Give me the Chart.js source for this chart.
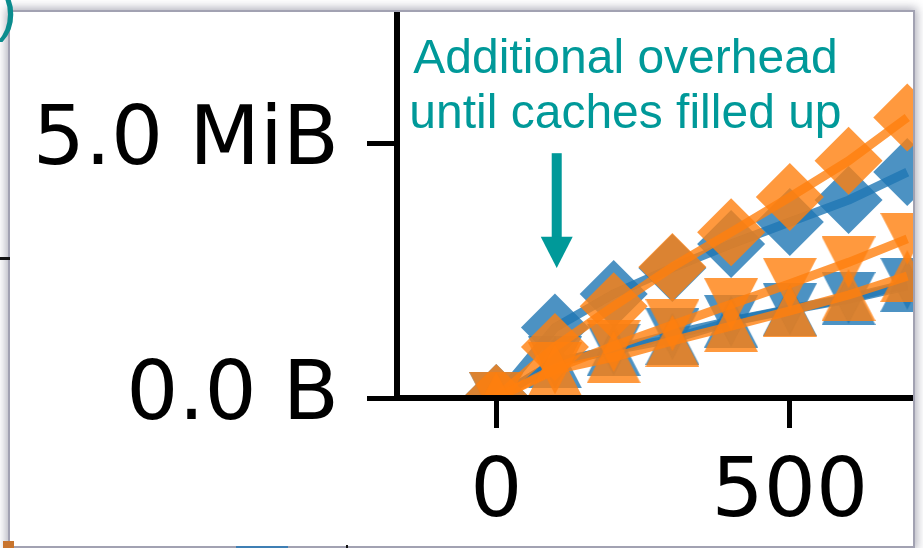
<!DOCTYPE html>
<html>
<head>
<meta charset="utf-8">
<script src="https://cdn.jsdelivr.net/npm/chart.js@4.4.1/dist/chart.umd.min.js"></script>
<style>
  html, body { margin: 0; padding: 0; background: #fff; }
  #page { position: relative; width: 923px; height: 548px; overflow: hidden; background: #fff; }
  #frame {
    position: absolute; left: 8px; top: 10px; width: 903px; height: 534px;
    border: 2px solid #a2a2b2; background: #fff; overflow: hidden;
    box-shadow: 0 0 9px 2px rgba(110, 110, 130, 0.55);
  }
  #wrap { position: absolute; left: -10px; top: -62px; width: 1000px; height: 650px; }
  .paren {
    position: absolute; left: -3px; top: -20px; height: 60px; line-height: 60px;
    font-family: "Liberation Sans", Arial, sans-serif; font-size: 60px; color: #0b8c8e;
  }
  .bit { position: absolute; }
</style>
</head>
<body>
<div id="page">
  <div id="frame">
    <div id="wrap"><canvas id="chart" width="1000" height="650"></canvas></div>
  </div>
  <div class="paren">)</div>
  <div class="bit" style="left:0;top:257px;width:10px;height:3px;background:#111;"></div>
  <div class="bit" style="left:3px;top:541px;width:11px;height:7px;background:#c8742e;"></div>
  <div class="bit" style="left:236px;top:546px;width:52px;height:2px;background:#3f7fb4;"></div>
  <div class="bit" style="left:346px;top:545px;width:2px;height:3px;background:#111;"></div>
</div>
<script>
// Requests processed (x) and memory in MiB (y)
const xValues = [0, 100, 200, 300, 400, 500, 600, 700];

const blueDiamond   = [0, 1.38, 2.04, 2.55, 3.02, 3.45, 3.88, 4.43];
const orangeDiamond = [0, 1.00, 1.80, 2.57, 3.25, 3.94, 4.65, 5.50];
const blueDown      = [0, 0.70, 0.95, 1.25, 1.51, 1.74, 1.96, 2.24];
const blueUp        = [0, 0.70, 0.94, 1.16, 1.50, 1.73, 1.94, 2.20];
const orangeDown    = [0, 0.58, 1.02, 1.43, 1.84, 2.24, 2.66, 3.12];
const orangeUp      = [0, 0.55, 0.80, 1.12, 1.41, 1.71, 2.02, 2.39];

const xTickValues = [0, 500];
const xTickLabels = ['0', '500'];
const yTickValues = [0, 5];
const yTickLabels = ['0.0 B', '5.0 MiB'];

const noteLines = ['Additional overhead', 'until caches filled up'];
const noteArrowX = 103;      // data x the arrow points at
const noteTextX = 220;       // data x of the text centre
const noteBaselines = [6.37, 5.29];
const noteArrowTop = 4.80, noteArrowHeadBase = 3.16, noteArrowTip = 2.55;

const BLUE = 'rgba(31,119,180,0.8)';
const ORANGE = 'rgba(255,127,14,0.8)';
const TEAL = '#009999';

// matplotlib-like triangles: width equals height, centred on the box
function triangleMarker(color, down) {
  const w = 54, h = 52;
  const c = document.createElement('canvas');
  c.width = w; c.height = h;
  const g = c.getContext('2d');
  g.fillStyle = color;
  g.beginPath();
  if (down) { g.moveTo(0, 0); g.lineTo(w, 0); g.lineTo(w / 2, h); }
  else { g.moveTo(w / 2, 0); g.lineTo(w, h); g.lineTo(0, h); }
  g.closePath();
  g.fill();
  return c;
}

function series(label, values, color, marker, order) {
  return {
    label,
    data: xValues.map((x, i) => ({ x, y: values[i] })),
    borderColor: color,
    backgroundColor: color,
    borderWidth: 9,
    borderJoinStyle: 'round',
    pointStyle: marker,
    pointRadius: marker === 'rectRot' ? 34 : 27,
    pointBackgroundColor: color,
    pointBorderWidth: 0,
    fill: false,
    tension: 0,
    clip: 0,
    order
  };
}

const datasets = [
  series('orange ▲', orangeUp, ORANGE, triangleMarker(ORANGE, false), 1),
  series('orange ▼', orangeDown, ORANGE, triangleMarker(ORANGE, true), 2),
  series('orange ◆', orangeDiamond, ORANGE, 'rectRot', 3),
  series('blue ▲', blueUp, BLUE, triangleMarker(BLUE, false), 4),
  series('blue ▼', blueDown, BLUE, triangleMarker(BLUE, true), 5),
  series('blue ◆', blueDiamond, BLUE, 'rectRot', 6)
];

// Teal note with a downward arrow
const cacheNote = {
  id: 'cacheNote',
  afterDraw(chart) {
    const { ctx } = chart;
    const xs = chart.scales.x, ys = chart.scales.y;
    ctx.save();
    ctx.fillStyle = TEAL;
    ctx.font = '48px "Liberation Sans", Arial, sans-serif';
    ctx.textAlign = 'center';
    ctx.textBaseline = 'alphabetic';
    const tx = xs.getPixelForValue(noteTextX);
    noteLines.forEach((line, i) => ctx.fillText(line, tx, ys.getPixelForValue(noteBaselines[i])));

    const ax = xs.getPixelForValue(noteArrowX);
    const yTop = ys.getPixelForValue(noteArrowTop);
    const yBase = ys.getPixelForValue(noteArrowHeadBase);
    const yTip = ys.getPixelForValue(noteArrowTip);
    ctx.fillRect(ax - 5, yTop, 10, yBase - yTop + 1);
    ctx.beginPath();
    ctx.moveTo(ax - 16, yBase);
    ctx.lineTo(ax + 16, yBase);
    ctx.lineTo(ax, yTip);
    ctx.closePath();
    ctx.fill();
    ctx.restore();
  }
};

const axisFont = { family: 'DejaVu Sans', size: 82 };

new Chart(document.getElementById('chart'), {
  type: 'line',
  data: { datasets },
  plugins: [cacheNote],
  options: {
    responsive: false,
    animation: false,
    devicePixelRatio: 1,
    events: [],
    layout: { padding: { left: 0, top: 40, right: 29.35, bottom: 0 } },
    plugins: { legend: { display: false }, tooltip: { enabled: false } },
    scales: {
      x: {
        type: 'linear',
        min: -169,
        max: 800,
        afterBuildTicks: s => { s.ticks = xTickValues.map(v => ({ value: v })); },
        afterFit: s => { s.height = 202; s.paddingLeft = 0; s.paddingRight = 0; },
        ticks: {
          callback: v => xTickLabels[xTickValues.indexOf(v)],
          font: axisFont, color: '#000', padding: 18,
          maxRotation: 0, autoSkip: false
        },
        grid: { drawOnChartArea: false, drawTicks: true, tickLength: 30, tickWidth: 5, tickColor: '#000', z: 1 },
        border: { display: true, width: 6, color: '#000', z: 1 }
      },
      y: {
        type: 'linear',
        min: 0,
        max: 8,
        afterBuildTicks: s => { s.ticks = yTickValues.map(v => ({ value: v })); },
        afterFit: s => { s.width = 397; s.paddingTop = 0; s.paddingBottom = 0; },
        ticks: {
          callback: v => yTickLabels[yTickValues.indexOf(v)],
          font: axisFont, color: '#000', padding: 28
        },
        grid: { drawOnChartArea: false, drawTicks: true, tickLength: 30, tickWidth: 5, tickColor: '#000', z: 1 },
        border: { display: true, width: 6, color: '#000', z: 1 }
      }
    }
  }
});
</script>
</body>
</html>
